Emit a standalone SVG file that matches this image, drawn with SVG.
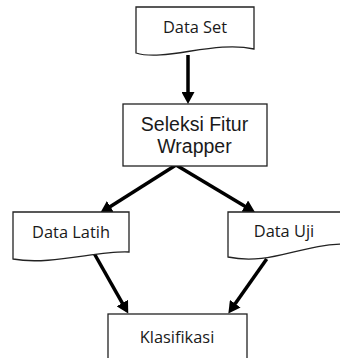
<svg xmlns="http://www.w3.org/2000/svg" width="340" height="358" viewBox="0 0 340 358">
<style>
.shape{fill:#fff;stroke:#222;stroke-width:1.3}
.lbl{font-family:"Open Sans",Lato,sans-serif;font-size:16.4px;fill:#1a1a1a;text-anchor:middle}
.lbl2{font-family:"Liberation Sans",Arial,sans-serif;font-size:19.5px;fill:#1a1a1a;text-anchor:middle}
.conn{stroke:#000;stroke-width:3.5;fill:none;marker-end:url(#ah)}
</style>
<defs>
<marker id="ah" markerUnits="userSpaceOnUse" markerWidth="13" markerHeight="13" refX="6" refY="6.5" orient="auto" viewBox="0 0 13 13">
<path d="M0,0 L12,6.5 L0,13 Z" fill="#000"/>
</marker>
</defs>
<rect width="340" height="358" fill="#fff"/>
<g id="connectors">
<line class="conn" x1="188" y1="55" x2="188" y2="98"/>
<line class="conn" x1="176" y1="165" x2="105.3" y2="209.8"/>
<line class="conn" x1="176" y1="165" x2="249.9" y2="209.2"/>
<line class="conn" x1="94.5" y1="254" x2="125.3" y2="308.3"/>
<line class="conn" x1="266.7" y1="259" x2="231.8" y2="308.6"/>
</g>
<g id="data-set">
<path class="shape" d="M136,7 H254 V49 C215,40 165,62 136,53 Z"/>
<text class="lbl" x="195" y="33">Data Set</text>
</g>
<g id="seleksi">
<rect class="shape" x="123" y="104" width="144" height="62"/>
<text class="lbl2" x="194.5" y="130.7">Seleksi Fitur</text>
<text class="lbl2" x="194.5" y="152.5">Wrapper</text>
</g>
<g id="data-latih">
<path class="shape" d="M13,212 H129 V252 C100,250 50,266 13,259 Z"/>
<text class="lbl" x="71" y="237.5">Data Latih</text>
</g>
<g id="data-uji">
<path class="shape" d="M228,212 H346 V244 C300,244 270,266 228,257 Z"/>
<text class="lbl" x="284" y="236.7">Data Uji</text>
</g>
<g id="klasifikasi">
<rect class="shape" x="108" y="314" width="139" height="50"/>
<text class="lbl" x="177" y="343.3">Klasifikasi</text>
</g>
</svg>
